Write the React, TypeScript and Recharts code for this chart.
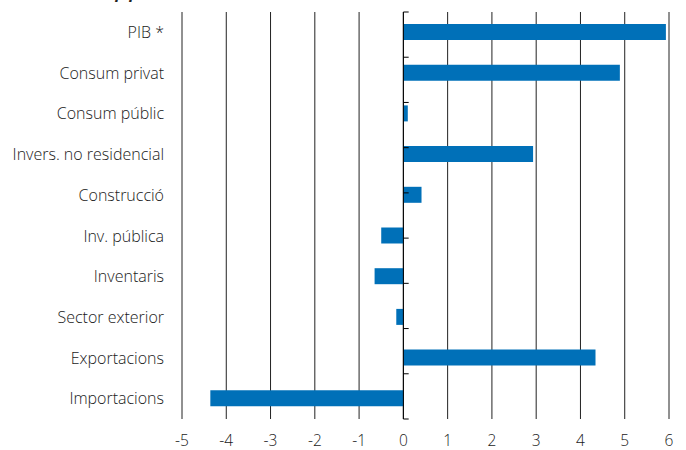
import React from 'react';
import { BarChart, Bar, XAxis, YAxis, CartesianGrid, ReferenceLine } from 'recharts';

const categories = [
  'PIB *',
  'Consum privat',
  'Consum públic',
  'Invers. no residencial',
  'Construcció',
  'Inv. pública',
  'Inventaris',
  'Sector exterior',
  'Exportacions',
  'Importacions',
];
const values = [5.93, 4.89, 0.1, 2.93, 0.41, -0.5, -0.65, -0.16, 4.34, -4.36];
const xTicks = [-5, -4, -3, -2, -1, 0, 1, 2, 3, 4, 5, 6];
const boundaries = [0, 1, 2, 3, 4, 5, 6, 7, 8, 9, 10];

const data = categories.map((name, i) => ({ name, value: values[i] }));

const FONT = '"Open Sans", "Noto Sans", sans-serif';

export default function App() {
  return (
    <div
      style={{
        position: 'absolute',
        left: 0,
        top: 0,
        width: 686,
        height: 450,
        overflow: 'hidden',
        background: '#fff',
      }}
    >
      <div
        style={{
          position: 'absolute',
          left: 110,
          top: -19,
          fontFamily: FONT,
          fontStyle: 'italic',
          fontWeight: 700,
          fontSize: 16,
          lineHeight: '22px',
          color: '#222',
          whiteSpace: 'nowrap',
        }}
      >
        (p.p.)
      </div>
      <BarChart
        width={686}
        height={450}
        data={data}
        layout="vertical"
        margin={{ top: 12, right: 17, bottom: 0, left: 0 }}
      >
        <CartesianGrid horizontal={false} stroke="#222" />
        <XAxis
          type="number"
          dataKey="value"
          domain={[-5, 6]}
          ticks={xTicks}
          interval={0}
          axisLine={false}
          tickLine={false}
          tickMargin={10}
          height={31}
          tick={{ fill: '#1a1a1a', fontSize: 15.5, fontWeight: 300, fontFamily: FONT }}
        />
        <YAxis
          type="category"
          dataKey="name"
          yAxisId="cat"
          width={182}
          axisLine={false}
          tickLine={false}
          tickMargin={12}
          interval={0}
          tick={{ fill: '#1a1a1a', fontSize: 16, fontWeight: 300, fontFamily: FONT }}
        />
        <YAxis type="number" yAxisId="num" domain={[0, 10]} hide />
        <Bar
          dataKey="value"
          yAxisId="cat"
          fill="#0070b8"
          barSize={16}
          isAnimationActive={false}
        />
        <ReferenceLine x={0} yAxisId="cat" stroke="#000" />
        {boundaries.map((b) => (
          <ReferenceLine
            key={b}
            yAxisId="num"
            segment={[
              { x: 0, y: b },
              { x: 0.12, y: b },
            ]}
            stroke="#000"
          />
        ))}
      </BarChart>
    </div>
  );
}
